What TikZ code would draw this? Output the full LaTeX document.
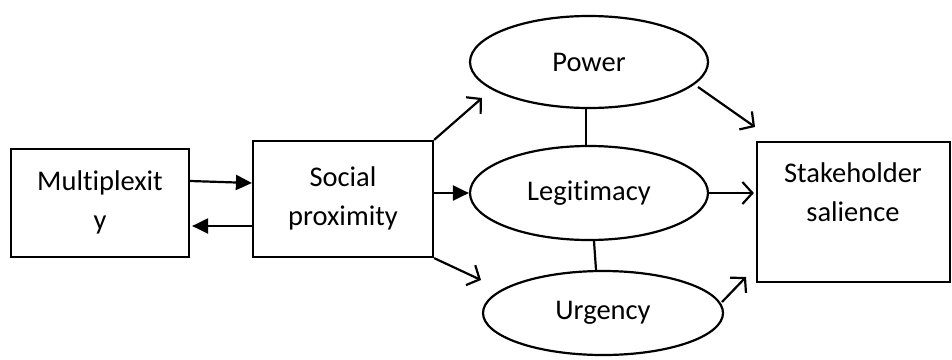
\documentclass[tikz,border=0pt]{standalone}
\usepackage{fontspec}
\setmainfont{Carlito}[Ligatures=NoCommon]
\usetikzlibrary{shapes.geometric,arrows.meta}
\begin{document}
\begin{tikzpicture}[x=1pt,y=-1pt,line width=2.2pt,
  every node/.style={font=\fontsize{28.5}{39}\selectfont},
  boxnode/.style={draw,rectangle,inner sep=0pt},
  ellnode/.style={draw,ellipse,inner sep=0pt,minimum width=238pt},
  lbl/.style={anchor=base,inner sep=0pt},
  solidtip/.style={-{Triangle[length=16pt,width=15pt]}},
  opentip/.style={-{Straight Barb[length=10pt,width=22pt,line width=2.2pt]}}]
\useasboundingbox (0,0) rectangle (952,359);
% boxes
\node[boxnode,minimum width=178pt,minimum height=108pt] (mul) at (100,203) {};
\node[lbl] (mult1) at (100,190) {Multiplexit};
\node[lbl] (mult2) at (100,229) {y};
\node[boxnode,minimum width=180pt,minimum height=116pt] (soc) at (343,199) {};
\node[lbl] (soct1) at (343,186) {Social};
\node[lbl] (soct2) at (343,225) {proximity};
\node[boxnode,minimum width=193pt,minimum height=140pt] (stk) at (853.5,212) {};
\node[lbl] (stkt1) at (853,182) {Stakeholder};
\node[lbl] (stkt2) at (853,221) {salience};
% ellipses
\node[ellnode,minimum height=92pt] (pow) at (589,62) {Power};
\node[ellnode,minimum height=94pt] (leg) at (589,193) {Legitimacy};
\node[ellnode,minimum width=240pt,minimum height=84pt] (urg) at (603,313) {\raisebox{2pt}{Urgency}};
% free ends
\coordinate (pTip) at (482,98);
\coordinate (uTip) at (481,280);
\coordinate (s1) at (755,127);
\coordinate (s3) at (746,277);
\coordinate (u0) at (722,302);
\coordinate (p0) at (698,87);
% connectors
\draw[solidtip] (mul.east |- 0,181) -- (soc.west |- 0,183);
\draw[solidtip] (soc.west |- 0,226) -- ([xshift=2pt]mul.east |- 0,226);
\draw[opentip] (soc.north east) -- (pTip);
\draw[opentip] (soc.south east) -- (uTip);
\draw[solidtip] (soc.east |- leg.west) -- (leg.west);
\draw[opentip] (p0) -- (s1);
\draw[opentip] (leg.east) -- ([xshift=-2pt]stk.west |- leg.east);
\draw[opentip] (u0) -- (s3);
\draw ([xshift=-3pt]pow.south) -- ([xshift=-3pt]leg.north);
\draw ([xshift=5pt]leg.south) -- ([xshift=-7pt]urg.north);
\end{tikzpicture}
\end{document}
